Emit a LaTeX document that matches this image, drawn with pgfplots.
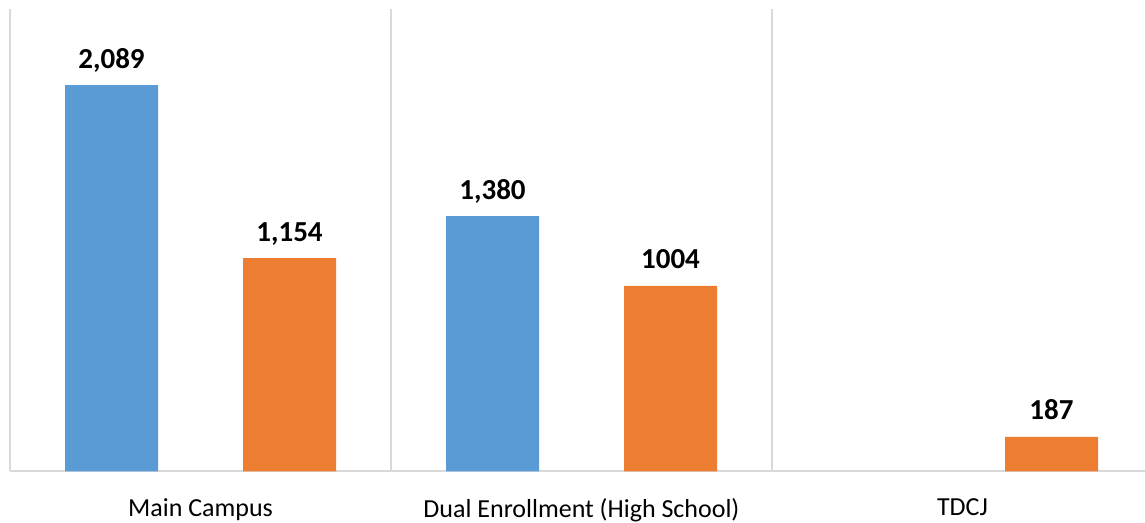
\documentclass[border=0pt]{standalone}
\usepackage{pgfplots}
\pgfplotsset{compat=1.18}
\usepackage{fontspec}
\setmainfont{Carlito}
\definecolor{cblue}{HTML}{5B9BD5}
\definecolor{corange}{HTML}{ED7D31}
\definecolor{cgrid}{HTML}{D9D9D9}
\begin{document}
\begin{tikzpicture}
\begin{axis}[
  scale only axis,
  width=567.5pt, height=231.25pt,
  at={(0,0)}, anchor=south west,
  xmin=-0.5, xmax=2.479,
  ymin=0, ymax=2500,
  ybar, bar width=46.5pt,
  xtick={0,1,2},
  xticklabels={Main Campus, Dual Enrollment (High School), TDCJ},
  minor xtick={-0.5,0.5,1.5,2.5},
  xminorgrids,
  minor grid style={cgrid, line width=0.75pt},
  major tick length=0pt, minor tick length=0pt,
  ytick=\empty,
  axis x line*=bottom,
  axis y line*=left,
  axis line style={cgrid, line width=1pt, -},
  xticklabel style={font=\fontsize{13}{15}\selectfont, yshift=-10pt},
  nodes near coords={\pgfplotspointmeta},
  point meta=explicit symbolic,
  every node near coord/.append style={font=\bfseries\fontsize{14.5}{16}\selectfont, anchor=base, yshift=8.5pt, black},
]
\addplot[fill=cblue, draw=none, bar shift=-44.5pt] table[meta=label] {
x y label
0 2089 2,089
1 1380 1,380
};
\addplot[fill=corange, draw=none, bar shift=44.5pt] table[meta=label] {
x y label
0 1154 1,154
1 1004 1004
2 187 187
};
\end{axis}
\pgfresetboundingbox
\path (-5pt,-25.75pt) rectangle (567.5pt,235.75pt);
\end{tikzpicture}
\end{document}
